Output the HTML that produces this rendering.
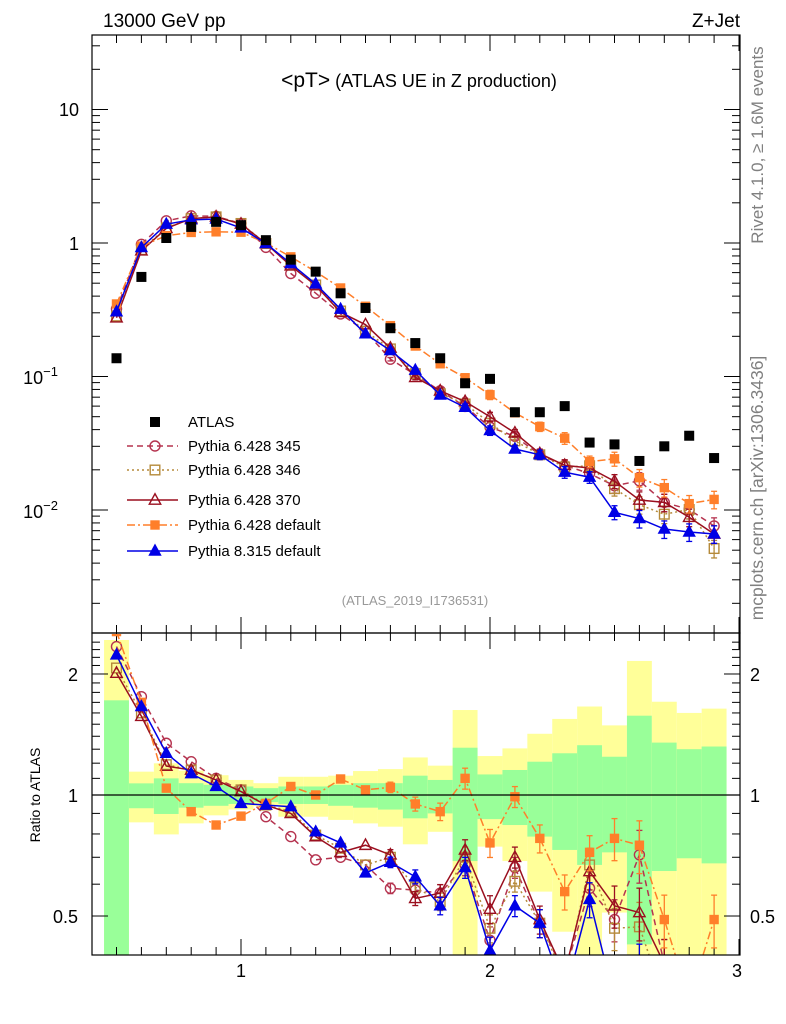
<!DOCTYPE html>
<html><head><meta charset="utf-8"><style>
html,body{margin:0;padding:0;background:#fff;overflow:hidden;width:786px;height:1024px;}
svg{display:block;font-family:"Liberation Sans",sans-serif;}
</style></head><body>
<svg id="chart" width="786" height="1024" viewBox="0 0 786 1024" xmlns="http://www.w3.org/2000/svg">
<defs>
<clipPath id="clipMain"><rect x="92" y="35" width="648" height="598"/></clipPath>
<clipPath id="clipRatio"><rect x="92" y="634" width="648" height="321"/></clipPath>
</defs>
<g id="bands" clip-path="url(#clipRatio)"></g>
<g id="ticks"></g>
<g id="mainMarks" clip-path="url(#clipMain)"></g>
<g id="ratioMarks" clip-path="url(#clipRatio)"></g>
<rect x="92" y="35" width="648" height="598" fill="none" stroke="#000" stroke-width="1.2"/>
<rect x="92" y="633" width="648" height="322" fill="none" stroke="#000" stroke-width="1.2"/>
<line x1="92" y1="795" x2="740" y2="795" stroke="#000" stroke-width="1.2"/>
<text x="103" y="27" font-size="19">13000 GeV pp</text>
<text x="740" y="27" font-size="19" text-anchor="end">Z+Jet</text>
<text x="419" y="87" text-anchor="middle"><tspan font-size="21">&lt;pT&gt;</tspan><tspan font-size="18"> (ATLAS UE in Z production)</tspan></text>
<text x="415" y="605" font-size="13" fill="#999" text-anchor="middle">(ATLAS_2019_I1736531)</text>
<text transform="translate(763,145) rotate(-90)" font-size="17" fill="#808080" text-anchor="middle">Rivet 4.1.0, ≥ 1.6M events</text>
<text transform="translate(763,488) rotate(-90)" font-size="17.5" fill="#808080" text-anchor="middle">mcplots.cern.ch [arXiv:1306.3436]</text>
<text transform="translate(40,795) rotate(-90)" font-size="14" text-anchor="middle">Ratio to ATLAS</text>
<g id="labels" font-size="18"></g>
<g id="legend" font-size="15"></g>
</svg>
<script>
const xBins=[0.5,0.6,0.7,0.8,0.9,1.0,1.1,1.2,1.3,1.4,1.5,1.6,1.7,1.8,1.9,2.0,2.1,2.2,2.3,2.4,2.5,2.6,2.7,2.8,2.9];
const atlasValues=[0.137,0.557,1.09,1.32,1.44,1.36,1.05,0.75,0.61,0.42,0.326,0.23,0.178,0.137,0.089,0.096,0.054,0.054,0.060,0.032,0.031,0.0233,0.030,0.036,0.0245];
const ratio345=[2.34,1.756,1.345,1.21,1.10,1.03,0.883,0.788,0.69,0.70,0.67,0.586,0.58,0.57,0.67,0.435,0.66,0.48,0.36,0.586,0.49,0.71,0.38,0.28,0.31];
const ratio346=[2.07,1.60,1.19,1.154,1.09,1.03,0.944,0.91,0.795,0.737,0.67,0.70,0.59,0.543,0.70,0.466,0.61,0.48,0.35,0.67,0.466,0.47,0.31,0.28,0.21];
const ratio370=[2.01,1.57,1.18,1.154,1.09,1.02,0.944,0.90,0.788,0.72,0.75,0.71,0.553,0.57,0.73,0.52,0.70,0.49,0.36,0.645,0.53,0.51,0.38,0.245,0.27];
const ratio6def=[2.55,1.70,1.04,0.909,0.842,0.886,0.953,1.05,1.0,1.096,1.03,1.045,0.95,0.909,1.10,0.76,0.99,0.78,0.575,0.72,0.78,0.75,0.49,0.31,0.49];
const ratio8def=[2.23,1.66,1.27,1.13,1.05,0.953,0.944,0.935,0.81,0.76,0.64,0.68,0.626,0.53,0.66,0.41,0.53,0.48,0.32,0.55,0.31,0.37,0.24,0.19,0.27];
const mcRelErr=[0.01,0.01,0.01,0.01,0.01,0.01,0.01,0.01,0.01,0.02,0.02,0.03,0.04,0.05,0.06,0.08,0.06,0.08,0.1,0.1,0.12,0.15,0.15,0.15,0.15];
const yellowUp=[2.43,1.143,1.199,1.15,1.12,1.09,1.07,1.11,1.11,1.117,1.147,1.16,1.24,1.183,1.627,1.25,1.306,1.42,1.546,1.66,1.49,2.155,1.706,1.60,1.64];
const yellowDn=[0.3,0.855,0.798,0.85,0.89,0.92,0.94,0.883,0.883,0.867,0.85,0.834,0.754,0.81,0.3,0.744,0.685,0.575,0.457,0.3,0.51,0.3,0.3,0.3,0.3];
const greenUp=[1.72,1.069,1.10,1.07,1.06,1.05,1.04,1.05,1.05,1.06,1.07,1.07,1.117,1.09,1.311,1.125,1.154,1.21,1.27,1.33,1.245,1.575,1.35,1.30,1.32];
const greenDn=[0.3,0.927,0.897,0.93,0.94,0.95,0.96,0.95,0.95,0.94,0.93,0.92,0.875,0.90,0.685,0.871,0.842,0.788,0.73,0.67,0.72,0.425,0.647,0.696,0.676];
const binWidth=0.1;

const NS='http://www.w3.org/2000/svg';
const xs=v=>241+249*(v-1);
const ym=v=>243-133.5*Math.log10(v);
const yr=r=>795-402*Math.log10(r);
function mk(tag,attrs,parent){const e=document.createElementNS(NS,tag);for(const k in attrs)e.setAttribute(k,attrs[k]);parent.appendChild(e);return e;}

const bands=document.getElementById('bands');
xBins.forEach((b,i)=>{
  const x0=xs(b-binWidth/2),w=xs(b+binWidth/2)-x0;
  const y=mk('rect',{x:x0,y:yr(yellowUp[i]),width:w,height:yr(yellowDn[i])-yr(yellowUp[i]),fill:'#ffff99'},bands);
  
  
  const g=mk('rect',{x:x0,y:yr(greenUp[i]),width:w,height:yr(greenDn[i])-yr(greenUp[i]),fill:'#99ff99'},bands);
  
  
});

const tk=document.getElementById('ticks');
for(let v=0.5;v<=3.0001;v+=0.1){
  const major=Math.abs(v-Math.round(v))<1e-6;
  const L=major?16:8,x=xs(v);
  [[633,633-L],[633,633+L],[955,955-L],[35,35+L]].forEach(p=>mk('line',{x1:x,x2:x,y1:p[0],y2:p[1],stroke:'#000','stroke-width':1},tk));
}
for(let d=-3;d<=1;d++){for(let m=1;m<10;m++){const v=m*Math.pow(10,d);const y=ym(v);if(y<35||y>633)continue;const L=m===1?16:8;
  mk('line',{x1:92,x2:92+L,y1:y,y2:y,stroke:'#000','stroke-width':1},tk);
  mk('line',{x1:740,x2:740-L,y1:y,y2:y,stroke:'#000','stroke-width':1},tk);}}
for(let r=0.4;r<=2.5;r+=0.1){const y=yr(r);if(y<634||y>954)continue;const maj=[0.5,1,2].some(q=>Math.abs(q-r)<1e-6);const L=maj?16:8;
  mk('line',{x1:92,x2:92+L,y1:y,y2:y,stroke:'#000','stroke-width':1},tk);
  mk('line',{x1:740,x2:740-L,y1:y,y2:y,stroke:'#000','stroke-width':1},tk);}

const lab=document.getElementById('labels');
function t(x,y,s,anchor,name,sup){const e=mk('text',{x:x,y:y,'text-anchor':anchor},lab);e.textContent=s;if(sup){const ts=mk('tspan',{dy:-8,'font-size':13},e);ts.textContent=sup;}return e;}
t(79,116,'10','end','y-tick-10');
t(79,250,'1','end','y-tick-1');
t(70,384,'10','end','y-tick-0.1','−1').setAttribute('x','58');
t(70,518,'10','end','y-tick-0.01','−2').setAttribute('x','58');
t(78,681,'2','end','ratio-tick-2-left');
t(78,802,'1','end','ratio-tick-1-left');
t(78,923,'0.5','end','ratio-tick-0.5-left');
t(750,681,'2','start','ratio-tick-2-right');
t(750,802,'1','start','ratio-tick-1-right');
t(750,923,'0.5','start','ratio-tick-0.5-right');
t(xs(1),977,'1','middle','x-tick-1');
t(xs(2),977,'2','middle','x-tick-2');
t(xs(3)-2,977,'3','middle','x-tick-3');

const series=[
 {name:'pythia6-345',r:ratio345,color:'#b5334f',dash:'6,4',marker:'circle',fill:'none',ms:5},
 {name:'pythia6-346',r:ratio346,color:'#b58a3a',dash:'2,3',marker:'square',fill:'none',ms:4.8},
 {name:'pythia6-370',r:ratio370,color:'#9a0f1f',dash:'',marker:'triangle',fill:'none',ms:5.2},
 {name:'pythia6-default',r:ratio6def,color:'#ff7f2a',dash:'8,3,2,3',marker:'square',fill:'#ff7f2a',ms:4},
 {name:'pythia8-default',r:ratio8def,color:'#0000e6',dash:'',marker:'triangle',fill:'#0000e6',ms:5}
];
function marker(g,type,x,y,color,fill,s){
  if(type==='circle')return mk('circle',{cx:x,cy:y,r:s,fill:fill,stroke:color,'stroke-width':1.4},g);
  if(type==='square')return mk('rect',{x:x-s,y:y-s,width:2*s,height:2*s,fill:fill,stroke:color,'stroke-width':1.4},g);
  return mk('polygon',{points:`${x},${y-s*1.2} ${x-s*1.1},${y+s*0.8} ${x+s*1.1},${y+s*0.8}`,fill:fill,stroke:color,'stroke-width':1.4},g);
}
const mainG=document.getElementById('mainMarks'),ratioG=document.getElementById('ratioMarks');
series.forEach(s=>{
  const vals=s.r.map((r,i)=>r*atlasValues[i]);
  ['main','ratio'].forEach(panel=>{
    const par=panel==='main'?mainG:ratioG;
    const g=mk('g',{},par);
    
    
    const yf=panel==='main'?(i=>ym(vals[i])):(i=>yr(s.r[i]));
    const ye=panel==='main'?((i,f)=>ym(vals[i]*f)):((i,f)=>yr(s.r[i]*f));
    const pts=xBins.map((b,i)=>xs(b)+','+yf(i)).join(' ');
    const pl=mk('polyline',{points:pts,fill:'none',stroke:s.color,'stroke-width':1.5},g);
    if(s.dash)pl.setAttribute('stroke-dasharray',s.dash);
    
    
    xBins.forEach((b,i)=>{
      const e=mcRelErr[i];
      if(e>=0.03){const x=xs(b);
        mk('line',{x1:x,x2:x,y1:ye(i,1+e),y2:ye(i,1-e),stroke:s.color,'stroke-width':1.3},g);
        mk('line',{x1:x-3,x2:x+3,y1:ye(i,1+e),y2:ye(i,1+e),stroke:s.color,'stroke-width':1.3},g);
        mk('line',{x1:x-3,x2:x+3,y1:ye(i,1-e),y2:ye(i,1-e),stroke:s.color,'stroke-width':1.3},g);}
      const m=marker(g,s.marker,xs(b),yf(i),s.color,s.fill,s.ms);
      
      
    });
  });
});
const ag=mk('g',{},mainG);


xBins.forEach((b,i)=>{
  const r=mk('rect',{x:xs(b)-5,y:ym(atlasValues[i])-5,width:10,height:10,fill:'#000'},ag);
  
  
});

const lg=document.getElementById('legend');
const entries=[
 {label:'ATLAS',y:422,atlas:true},
 {label:'Pythia 6.428 345',y:446,s:series[0]},
 {label:'Pythia 6.428 346',y:470,s:series[1]},
 {label:'Pythia 6.428 370',y:500,s:series[2]},
 {label:'Pythia 6.428 default',y:525,s:series[3]},
 {label:'Pythia 8.315 default',y:551,s:series[4]}
];
entries.forEach(en=>{
  const g=mk('g',{},lg);
  
  
  if(en.atlas){mk('rect',{x:150,y:en.y-5,width:10,height:10,fill:'#000'},g);}
  else{const l=mk('line',{x1:127,x2:178,y1:en.y,y2:en.y,stroke:en.s.color,'stroke-width':1.5},g);
    if(en.s.dash)l.setAttribute('stroke-dasharray',en.s.dash);
    marker(g,en.s.marker,155,en.y,en.s.color,en.s.fill,en.s.ms);}
  const tx=mk('text',{x:188,y:en.y+5},g);tx.textContent=en.label;
});
</script>
</body></html>
